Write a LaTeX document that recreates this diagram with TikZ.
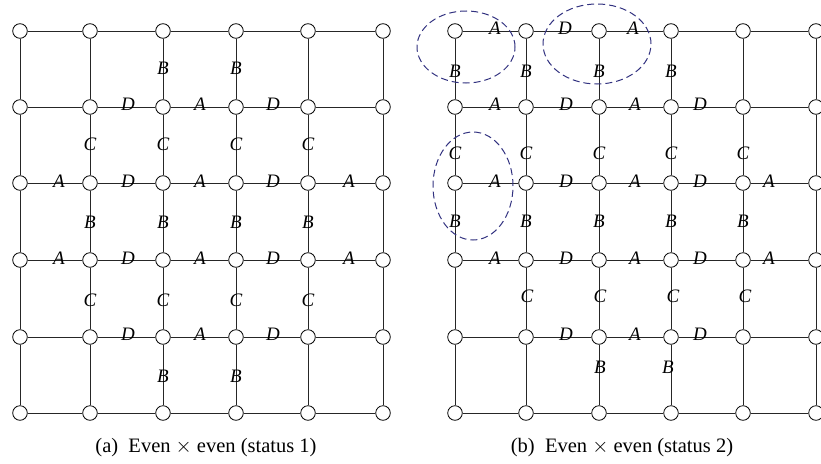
\documentclass[tikz,border=0pt]{standalone}
\usepackage{fontspec}
\setmainfont{Liberation Serif}
\usepackage{xcolor}
\usepackage{tikz}
\usetikzlibrary{shapes,arrows}
\definecolor{ringblue}{RGB}{50,50,128}
\tikzstyle{vertex} = [circle, draw, fill=white, line width=0.8pt,
    minimum size=14.6pt, inner sep=0pt]
\tikzstyle{gridline} = [draw=black!85, line width=0.85pt]
\tikzstyle{letter} = [font=\fontsize{19}{19}\selectfont\itshape, inner sep=0pt]
\tikzstyle{caption} = [font=\fontsize{20.5}{22}\selectfont, inner sep=0pt]
\tikzstyle{ring} = [ellipse, draw=ringblue, line width=1pt,
    dash pattern=on 7pt off 4pt, inner sep=0pt]

\begin{document}
\begin{tikzpicture}[x=1pt, y=-1pt]
    \useasboundingbox (0,0) rectangle (821,463);
    % Place nodes
    \foreach \y [count=\i] in {31,107,183,260,337,413} {
        \foreach \x [count=\j] in {20,90,163,236,308,383}
            \node [vertex] (left\i\j) at (\x,\y) {};
        \foreach \x [count=\j] in {455,526,599,671,743,816}
            \node [vertex] (right\i\j) at (\x,\y) {};
    }
    % Grid edges
    \foreach \i in {1,...,6} {
        \foreach \j [count=\k from 2] in {1,...,5} {
            \draw [gridline] (left\i\j) -- (left\i\k);
            \draw [gridline] (left\j\i) -- (left\k\i);
            \draw [gridline] (right\i\j) -- (right\i\k);
            \draw [gridline] (right\j\i) -- (right\k\i);
        }
    }
    % Letters, status 1
    \foreach \x/\y/\t [count=\n] in {163/68/B, 236/68/B,
        128/104/D, 200/104/A, 273/104/D,
        90/144/C, 163/144/C, 236/144/C, 308/144/C,
        59/181/A, 128/181/D, 200/181/A, 273/181/D, 349/181/A,
        90/222/B, 163/222/B, 236/222/B, 308/222/B,
        59/258/A, 128/258/D, 200/258/A, 273/258/D, 349/258/A,
        90/300/C, 163/300/C, 236/300/C, 308/300/C,
        128/334/D, 200/334/A, 273/334/D,
        163/376/B, 236/376/B}
        \node [letter] (leftLetter\n) at (\x,\y) {\t};
    % Letters, status 2
    \foreach \x/\y/\t [count=\n] in {495/28/A, 565/28/D, 633/28/A,
        455/71/B, 526/71/B, 599/71/B, 671/71/B,
        495/104/A, 566/104/D, 635/104/A, 700/104/D,
        455/153/C, 526/153/C, 599/153/C, 671/153/C, 743/153/C,
        495/181/A, 566/181/D, 635/181/A, 700/181/D, 769/181/A,
        455/221/B, 526/221/B, 599/221/B, 671/221/B, 743/221/B,
        495/258/A, 566/258/D, 635/258/A, 700/258/D, 769/258/A,
        527/296/C, 600/296/C, 673/296/C, 745/296/C,
        566/334/D, 635/334/A, 700/334/D,
        600/367/B, 668/367/B}
        \node [letter] (rightLetter\n) at (\x,\y) {\t};
    % Dashed groups
    \node [ring, minimum width=98pt, minimum height=72pt] (cornerRing) at (466,47) {};
    \node [ring, minimum width=108pt, minimum height=80pt] (topRing) at (597,44) {};
    \node [ring, minimum width=80pt, minimum height=108pt] (sideRing) at (473,186) {};
    % Captions
    \node [caption] (captionLeft) at (206,448) {(a)\enspace Even $\times$ even (status 1)};
    \node [caption] (captionRight) at (622,448) {(b)\enspace Even $\times$ even (status 2)};
\end{tikzpicture}
\end{document}
